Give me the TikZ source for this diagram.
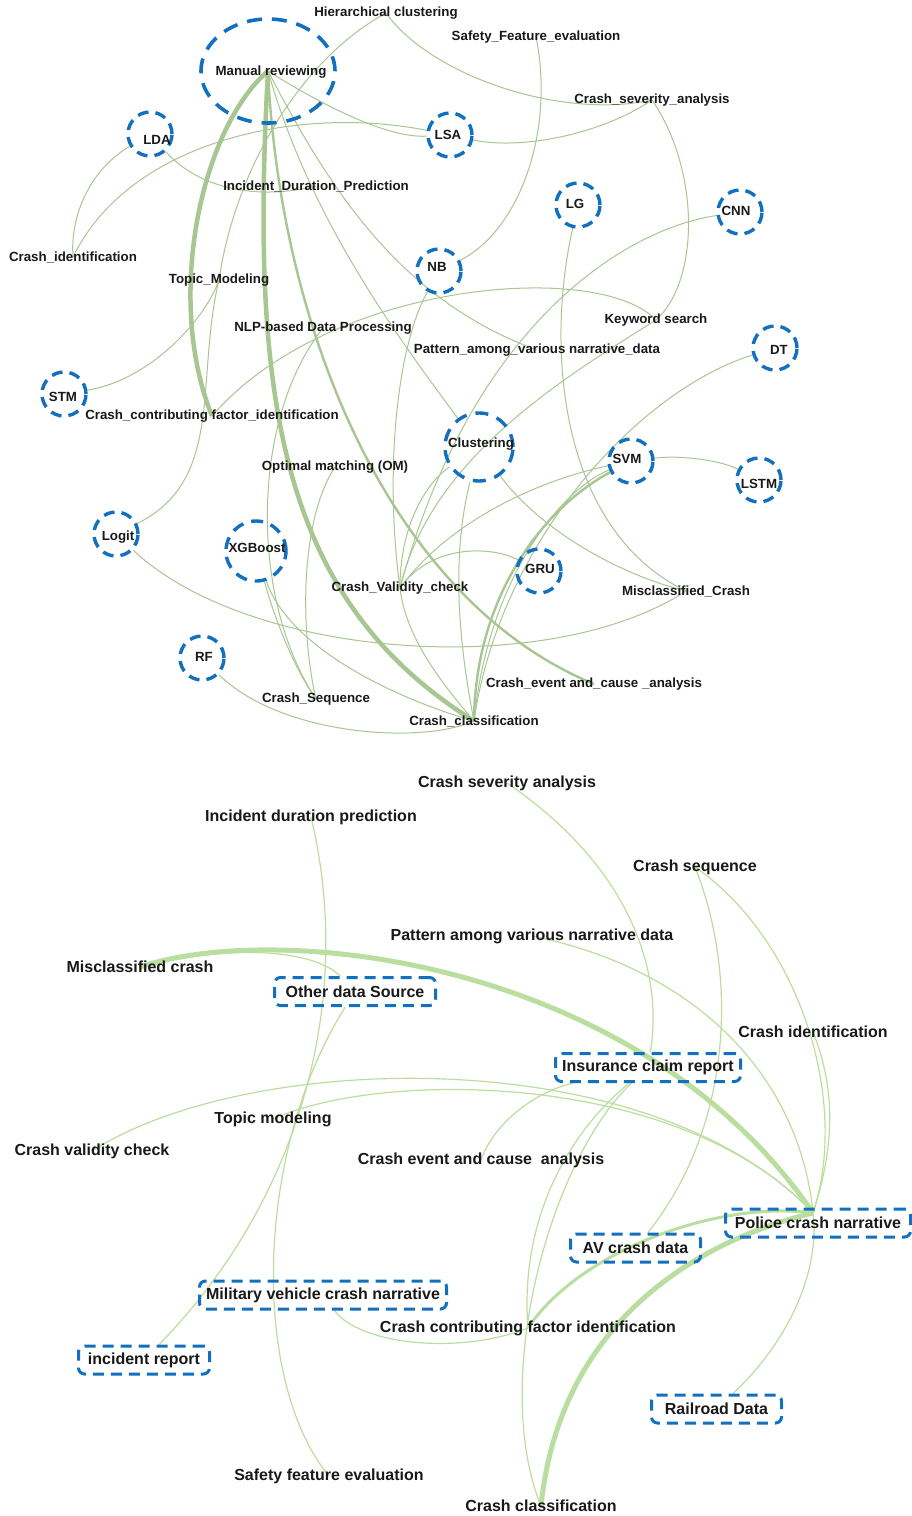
\documentclass[tikz,border=0pt]{standalone}
\usepackage{fontspec}
\setmainfont{Liberation Sans}
\usetikzlibrary{shapes.geometric}
\definecolor{topE}{RGB}{168,198,146}
\definecolor{botE}{RGB}{186,222,160}
\definecolor{bl}{RGB}{18,112,190}
\definecolor{tx}{RGB}{25,25,25}
\pgfdeclarelayer{edges}
\pgfsetlayers{edges,main}
\begin{document}
\begin{tikzpicture}[x=1pt,y=-1pt,
  tl/.style={font=\fontsize{13.3}{15}\selectfont\bfseries, text=tx, inner sep=0pt},
  bt/.style={font=\fontsize{16}{18}\selectfont\bfseries, text=tx, inner sep=0pt},
  mc/.style={circle, draw=bl, line width=3.4pt, dash pattern=on 11pt off 7pt, inner sep=0pt, minimum size=44pt},
  sbox/.style={rectangle, rounded corners=6pt, draw=bl, line width=3pt, dash pattern=on 11pt off 7pt, minimum height=28pt, inner sep=0pt, font=\fontsize{16}{18}\selectfont\bfseries, text=tx},
  te/.style={draw=topE, line width=1pt},
  tm/.style={draw=topE, line width=2.4pt},
  tk/.style={draw=topE, line width=4.5pt},
  be/.style={draw=botE, line width=1.2pt},
  bm/.style={draw=botE, line width=3pt},
  bk/.style={draw=botE, line width=5pt}
]
\useasboundingbox (0,0) rectangle (912,1516);

% ---------- top: method circles ----------
\node[ellipse, draw=bl, line width=3.6pt, dash pattern=on 15pt off 10pt, minimum width=134pt, minimum height=104pt, inner sep=0pt] (mr) at (268,71) {};
\node[tl] (mrT) at (271,72) {Manual reviewing};
\node[mc] (lda) at (150,134) {};   \node[tl] (ldaT) at (157,140) {LDA};
\node[mc] (lsa) at (450,135) {};   \node[tl] (lsaT) at (448,135) {LSA};
\node[mc] (lg) at (578,205) {};    \node[tl] (lgT) at (575,204) {LG};
\node[mc] (cnn) at (740,212) {};   \node[tl] (cnnT) at (736,211) {CNN};
\node[mc] (nb) at (439,271) {};    \node[tl] (nbT) at (437,267) {NB};
\node[mc] (dt) at (775,348) {};    \node[tl] (dtT) at (779,350) {DT};
\node[mc] (stm) at (64,394) {};    \node[tl] (stmT) at (63,397) {STM};
\node[mc, minimum size=68pt, dash pattern=on 13pt off 9pt] (clus) at (479,447) {}; \node[tl] (clusT) at (481,444) {Clustering};
\node[mc] (svm) at (631,461) {};   \node[tl] (svmT) at (627,459) {SVM};
\node[mc] (lstm) at (759,480) {};  \node[tl] (lstmT) at (759,484) {LSTM};
\node[mc] (logit) at (116,534) {}; \node[tl] (logitT) at (118,537) {Logit};
\node[mc, minimum size=60pt, dash pattern=on 12pt off 8pt] (xgb) at (256,551) {}; \node[tl] (xgbT) at (257,548) {XGBoost};
\node[mc] (gru) at (539,571) {};   \node[tl] (gruT) at (540,569) {GRU};
\node[mc] (rf) at (202,658) {};    \node[tl] (rfT) at (204,657) {RF};

% ---------- top: labels ----------
\node[tl] (hier) at (386,13) {Hierarchical clustering};
\node[tl] (safety) at (536,37) {Safety\_Feature\_evaluation};
\node[tl] (sev) at (652,100) {Crash\_severity\_analysis};
\node[tl] (idp) at (316,186) {Incident\_Duration\_Prediction};
\node[tl] (cid) at (73,257) {Crash\_identification};
\node[tl] (topic) at (219,280) {Topic\_Modeling};
\node[tl] (kw) at (656,320) {Keyword search};
\node[tl] (nlp) at (323,328) {NLP-based Data Processing};
\node[tl] (pat) at (537,350) {Pattern\_among\_various narrative\_data};
\node[tl] (ccf) at (212,416) {Crash\_contributing factor\_identification};
\node[tl] (om) at (335,467) {Optimal matching (OM)};
\node[tl] (cvc) at (400,588) {Crash\_Validity\_check};
\node[tl] (mis) at (686,591) {Misclassified\_Crash};
\node[tl] (cea) at (594,684) {Crash\_event and\_cause \_analysis};
\node[tl] (cseq) at (316,699) {Crash\_Sequence};
\node[tl] (ccl) at (474,721) {Crash\_classification};

% ---------- bottom: data source boxes ----------
\node[sbox, minimum width=161pt] (oth) at (355,991.5) {Other data Source};
\node[sbox, minimum width=185pt] (ins) at (648,1067.5) {Insurance claim report};
\node[sbox, minimum width=185pt] (pol) at (818,1223) {Police crash narrative};
\node[sbox, minimum width=130pt] (av) at (635.5,1248) {AV crash data};
\node[sbox, minimum width=247pt] (mil) at (323,1295) {Military vehicle crash narrative};
\node[sbox, minimum width=131pt] (incr) at (144,1360) {incident report};
\node[sbox, minimum width=130pt] (rail) at (716.5,1409) {Railroad Data};
\coordinate (polP) at ([xshift=-5pt,yshift=10pt]pol.center);

% ---------- bottom: labels ----------
\node[bt] (bsev) at (507,783) {Crash severity analysis};
\node[bt] (bidp) at (311,817) {Incident duration prediction};
\node[bt] (bseq) at (695,867) {Crash sequence};
\node[bt] (bpat) at (532,936) {Pattern among various narrative data};
\node[bt] (bmis) at (140,967) {Misclassified crash};
\node[bt] (bcid) at (813,1032) {Crash identification};
\node[bt] (btopic) at (273,1119) {Topic modeling};
\node[bt] (bcvc) at (92,1151) {Crash validity check};
\node[bt] (bcea) at (481,1160) {Crash event and cause~ analysis};
\node[bt] (bccf) at (528,1328) {Crash contributing factor identification};
\node[bt] (bsfe) at (329,1476) {Safety feature evaluation};
\node[bt] (bccl) at (541,1506) {Crash classification};

\begin{pgfonlayer}{edges}
\fill[white] (0,0) rectangle (912,1516);
% ---- top edges ----
\path[tk] (mr.center) .. controls (200,130) and (165,300) .. (ccf.center);
\path[tk] (mr.center) .. controls (250,400) and (280,600) .. (ccl.center);
\path[tm] (mr.center) .. controls (280,330) and (390,600) .. (cea.center);
\path[te] (mr.center) .. controls (330,110) and (390,138) .. (lsa);
\path[te] (lsa) .. controls (300,105) and (130,140) .. (cid.center);
\path[te] (lda) .. controls (90,170) and (70,215) .. (cid.center);
\path[te] (lda) .. controls (200,190) and (260,200) .. (idp.center);
\path[te] (hier.center) .. controls (430,75) and (560,120) .. (sev.center);
\path[te] (hier.center) .. controls (300,60) and (235,170) .. (topic.center);
\path[te] (safety.center) .. controls (555,130) and (520,230) .. (nb);
\path[te] (sev.center) .. controls (600,135) and (520,150) .. (lsa);
\path[te] (sev.center) .. controls (700,170) and (700,280) .. (kw.center);
\path[te] (kw.center) .. controls (560,380) and (430,460) .. (cvc.center);
\path[te] (cnn) .. controls (620,230) and (470,330) .. (cvc.center);
\path[te] (lg) .. controls (545,350) and (560,530) .. (mis.center);
\path[te] (nb) .. controls (395,350) and (385,480) .. (cvc.center);
\path[te] (ccf.center) .. controls (330,280) and (600,260) .. (kw.center);
\path[te] (stm) .. controls (150,380) and (205,320) .. (topic.center);
\path[te] (mr.center) .. controls (330,190) and (400,300) .. (pat.center);
\path[te] (mr.center) .. controls (310,220) and (400,340) .. (clus);
\path[te] (topic.center) .. controls (195,380) and (225,480) .. (logit);
\path[te] (logit) .. controls (250,660) and (550,680) .. (mis.center);
\path[te] (rf) .. controls (280,735) and (420,745) .. (ccl.center);
\path[te] (xgb) .. controls (290,650) and (400,700) .. (ccl.center);
\path[te] (xgb) .. controls (275,620) and (295,670) .. (cseq.center);
\path[te] (nlp.center) .. controls (250,420) and (250,600) .. (cseq.center);
\path[te] (om.center) .. controls (300,520) and (300,630) .. (cseq.center);
\path[te] (cvc.center) .. controls (430,545) and (490,545) .. (gru);
\path[te] (cvc.center) .. controls (450,520) and (540,480) .. (svm);
\path[te] (cvc.center) .. controls (400,520) and (430,480) .. (clus);
\path[tm] (svm) .. controls (540,510) and (475,600) .. (ccl.center);
\path[te] (svm) .. controls (560,490) and (488,580) .. (ccl.center);
\path[te] (dt) .. controls (640,390) and (500,540) .. (ccl.center);
\path[te] (svm) .. controls (680,455) and (720,460) .. (lstm);
\path[te] (clus) .. controls (540,530) and (620,575) .. (mis.center);
\path[te] (ccl.center) .. controls (430,670) and (405,630) .. (cvc.center);
\path[te] (clus) .. controls (450,560) and (460,650) .. (ccl.center);
% ---- bottom edges ----
\path[bk] (bmis.center) .. controls (280,920) and (640,960) .. (polP);
\path[be] (bmis.center) .. controls (250,940) and (320,955) .. (oth);
\path[be] (bidp.center) .. controls (355,1000) and (300,1200) .. (incr);
\path[be] (oth) .. controls (255,1150) and (250,1380) .. (bsfe.center);
\path[be] (bsev.center) .. controls (620,860) and (665,960) .. (ins);
\path[be] (bseq.center) .. controls (740,980) and (730,1130) .. (av);
\path[be] (bseq.center) .. controls (800,940) and (850,1100) .. (polP);
\path[be] (bpat.center) .. controls (700,970) and (800,1080) .. (polP);
\path[be] (bcid.center) .. controls (840,1100) and (830,1160) .. (polP);
\path[be] (bcvc.center) .. controls (250,1050) and (650,1040) .. (polP);
\path[be] (btopic.center) .. controls (380,1070) and (680,1070) .. (polP);
\path[be] (ins) .. controls (540,1090) and (495,1120) .. (bcea.center);
\path[be] (ins) .. controls (560,1140) and (520,1230) .. (bccf.center);
\path[be] (ins) .. controls (550,1160) and (490,1380) .. (bccl.center);
\path[bk] (polP) .. controls (700,1240) and (560,1320) .. (bccl.center);
\path[bm] (polP) .. controls (720,1200) and (580,1250) .. (bccf.center);
\path[be] (mil) .. controls (360,1345) and (460,1355) .. (bccf.center);
\path[be] (rail) .. controls (790,1340) and (820,1270) .. (polP);
\end{pgfonlayer}
\end{tikzpicture}
\end{document}
